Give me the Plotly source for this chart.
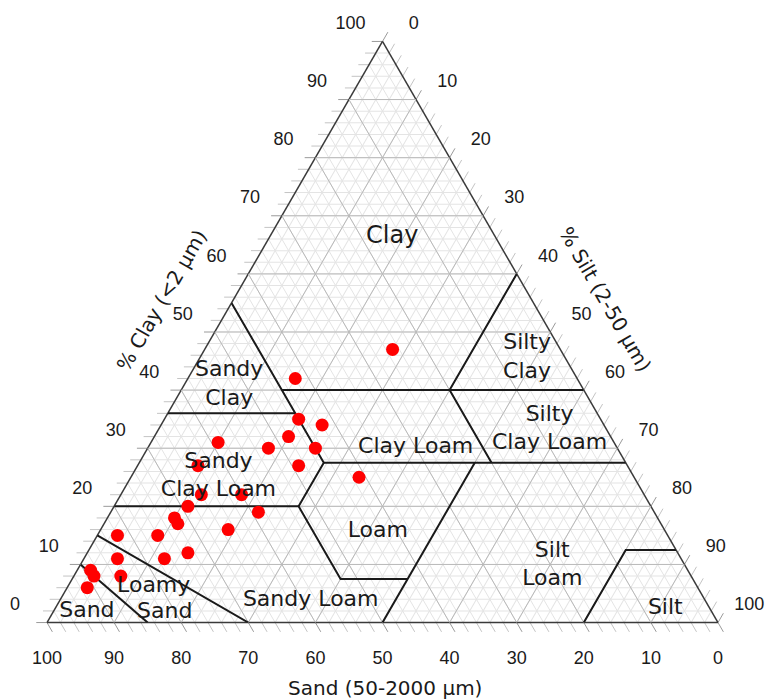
import plotly.graph_objects as go

# Soil samples: % clay, % sand, % silt
clay = [47, 42, 35, 34, 32, 31, 30, 30, 27, 25, 27, 22, 22, 20, 19, 18, 17, 16, 15, 15, 12, 11, 11, 9, 8, 8, 6]
sand = [25, 42, 45, 42, 48, 59, 52, 45, 49, 41, 64, 66, 60, 69, 59, 72, 72, 65, 76, 82, 73, 77, 84, 89, 89, 85, 91]
silt = [28, 16, 20, 24, 20, 10, 18, 25, 24, 34, 9, 12, 18, 11, 22, 10, 11, 19, 9, 3, 15, 12, 5, 2, 3, 7, 3]

# USDA texture-class boundaries as (clay, sand, silt) polylines
class_boundaries = [
    [(55, 45, 0), (40, 45, 15), (27.5, 45, 27.5), (20, 52.5, 27.5), (7.5, 52.5, 40), (7.5, 42.5, 50)],
    [(40, 45, 15), (40, 0, 60)],
    [(36, 64, 0), (36, 45, 19)],
    [(60, 0, 40), (40, 20, 40), (27.5, 20, 52.5)],
    [(27.5, 45, 27.5), (27.5, 0, 72.5)],
    [(20, 80, 0), (20, 52.5, 27.5)],
    [(27.5, 22.5, 50), (0, 50, 50)],
    [(15, 85, 0), (0, 70, 30)],
    [(10, 90, 0), (0, 85, 15)],
    [(0, 20, 80), (12.5, 7.5, 80), (12.5, 0, 87.5)],
]

# Texture-class names and where they sit (clay, sand, silt)
class_names = ["Clay", "Sandy<br>Clay", "Silty<br>Clay", "Silty<br>Clay Loam", "Clay Loam",
               "Sandy<br>Clay Loam", "Loam", "Silt<br>Loam", "Sandy Loam", "Loamy", "Sand",
               "Sand", "Silt"]
class_pos = [(66.3, 15.4, 18.3), (40.9, 52.4, 6.7), (45.5, 5.7, 48.8), (33.2, 8.5, 58.3),
             (30.1, 30.0, 39.9), (25.1, 61.9, 13.0), (15.6, 42.9, 41.5), (9.8, 19.8, 70.4),
             (3.8, 58.8, 37.4), (6.2, 81.0, 12.8), (1.7, 81.6, 16.7), (1.9, 93.1, 5.0),
             (2.5, 6.6, 90.9)]
class_font_sizes = [24, 22, 22, 22, 22, 22, 22, 22, 22, 22, 22, 22, 22]

tick_values = list(range(0, 101, 10))
minor_ticks = list(range(0, 101, 2))

W, H = 768, 700
TRI_X = [47 / W, 718 / W]          # ternary domain (paper fraction)
TRI_Y = [77 / H, 659 / H]
TXT = "#1a1a1a"

fig = go.Figure()


def tern_lines(segments, color, width):
    a, b, c = [], [], []
    for seg in segments:
        for p in seg:
            a.append(p[0]); b.append(p[1]); c.append(p[2])
        a.append(None); b.append(None); c.append(None)
    return go.Scatterternary(a=a, b=b, c=c, mode="lines",
                             line=dict(color=color, width=width), hoverinfo="skip")


# major grid every 10 %
major = []
for v in tick_values[1:-1]:
    major.append([(v, 100 - v, 0), (v, 0, 100 - v)])
    major.append([(0, v, 100 - v), (100 - v, v, 0)])
    major.append([(0, 100 - v, v), (100 - v, 0, v)])
fig.add_trace(tern_lines(major, "#b9b9b9", 1))

# class boundaries
fig.add_trace(tern_lines(class_boundaries, "#1a1a1a", 2))

# samples
fig.add_trace(go.Scatterternary(a=clay, b=sand, c=silt, mode="markers",
                                marker=dict(color="#ff0000", size=13, line=dict(width=0)),
                                name="samples"))

# class names
fig.add_trace(go.Scatterternary(a=[p[0] for p in class_pos], b=[p[1] for p in class_pos],
                                c=[p[2] for p in class_pos], mode="text", text=class_names,
                                textposition="middle center",
                                textfont=dict(family="DejaVu Sans", size=class_font_sizes,
                                              color=TXT),
                                hoverinfo="skip"))

# ---- edge ticks and tick labels on a hidden cartesian frame -------------
# the frame uses the ternary's own planar mapping: x = silt - sand, y = clay


def xy(a, b, c):
    return c - b, a


def seg_trace(segments, color):
    xs, ys = [], []
    for p, q in segments:
        for pt in (p, q):
            x, y = xy(*pt)
            xs.append(x); ys.append(y)
        xs.append(None); ys.append(None)
    return go.Scatter(x=xs, y=ys, mode="lines", line=dict(color=color, width=1),
                      hoverinfo="skip", xaxis="x", yaxis="y")


L = 1.6
t_minor, t_major = [], []
for v in minor_ticks:
    grp = t_major if v % 10 == 0 else t_minor
    grp.append(((v, 100 - v, 0), (v, 100 - v + L, -L)))          # clay, left edge
    grp.append(((0, v, 100 - v), (-L, v, 100 - v + L)))          # sand, bottom edge
    grp.append(((100 - v, 0, v), (100 - v + L, -L, v)))          # silt, right edge
fig.add_trace(seg_trace(t_minor, "#c4c4c4"))
fig.add_trace(seg_trace(t_major, "#9a9a9a"))

lab_font = dict(family="Liberation Sans", size=18, color=TXT)
lx, ly, lt = [], [], []
for v in tick_values:
    x, y = xy(v, 100 - v, 0)
    lx.append(x - 9.5); ly.append(y + 2.9); lt.append(str(v))
    x, y = xy(0, v, 100 - v)
    lx.append(x); ly.append(y - 6.37); lt.append(str(v))
    x, y = xy(100 - v, 0, v)
    lx.append(x + 9.3); ly.append(y + 2.9); lt.append(str(v))
fig.add_trace(go.Scatter(x=lx, y=ly, text=lt, mode="text", textposition="middle center",
                         textfont=lab_font, hoverinfo="skip", xaxis="x", yaxis="y"))

# cartesian ranges chosen so the frame lines up with the ternary triangle
tri_w = (TRI_X[1] - TRI_X[0]) * W
tri_h = tri_w * 3 ** 0.5 / 2
px_x = tri_w / 200.0
px_y = tri_h / 100.0
cx = (TRI_X[0] + TRI_X[1]) / 2 * W
base = H - (TRI_Y[0] + TRI_Y[1]) / 2 * H + tri_h / 2
x_range = [(0 - cx) / px_x, (W - cx) / px_x]
y_range = [(base - H) / px_y, base / px_y]

axis_style = dict(showgrid=True, gridcolor="#e4e4e4", gridwidth=1, tick0=0, dtick=2,
                  showticklabels=False, ticks="", showline=True, linecolor="#3a3a3a",
                  linewidth=1.5, title=dict(text=""), min=0, layer="below traces")

title_font = dict(family="DejaVu Sans", size=20, color=TXT)
fig.update_layout(
    width=W, height=H,
    margin=dict(l=0, r=0, t=0, b=0),
    paper_bgcolor="white", plot_bgcolor="rgba(0,0,0,0)",
    showlegend=False,
    xaxis=dict(domain=[0, 1], range=x_range, visible=False, fixedrange=True),
    yaxis=dict(domain=[0, 1], range=y_range, visible=False, fixedrange=True),
    ternary=dict(sum=100, bgcolor="white", domain=dict(x=TRI_X, y=TRI_Y),
                 aaxis=axis_style, baxis=axis_style, caxis=axis_style),
    annotations=[
        dict(text="Sand (50-2000 µm)", x=385 / W, y=1 - 688 / H, xref="paper", yref="paper",
             xanchor="center", yanchor="middle", showarrow=False, font=title_font),
        dict(text="% Clay (<2 µm)", x=161 / W, y=1 - 300.5 / H, xref="paper", yref="paper",
             xanchor="center", yanchor="middle", textangle=-60, showarrow=False, font=title_font),
        dict(text="% Silt (2-50 µm)", x=605 / W, y=1 - 299 / H, xref="paper", yref="paper",
             xanchor="center", yanchor="middle", textangle=60, showarrow=False, font=title_font),
    ],
)

fig.write_html("out.html", config={"displayModeBar": False})
